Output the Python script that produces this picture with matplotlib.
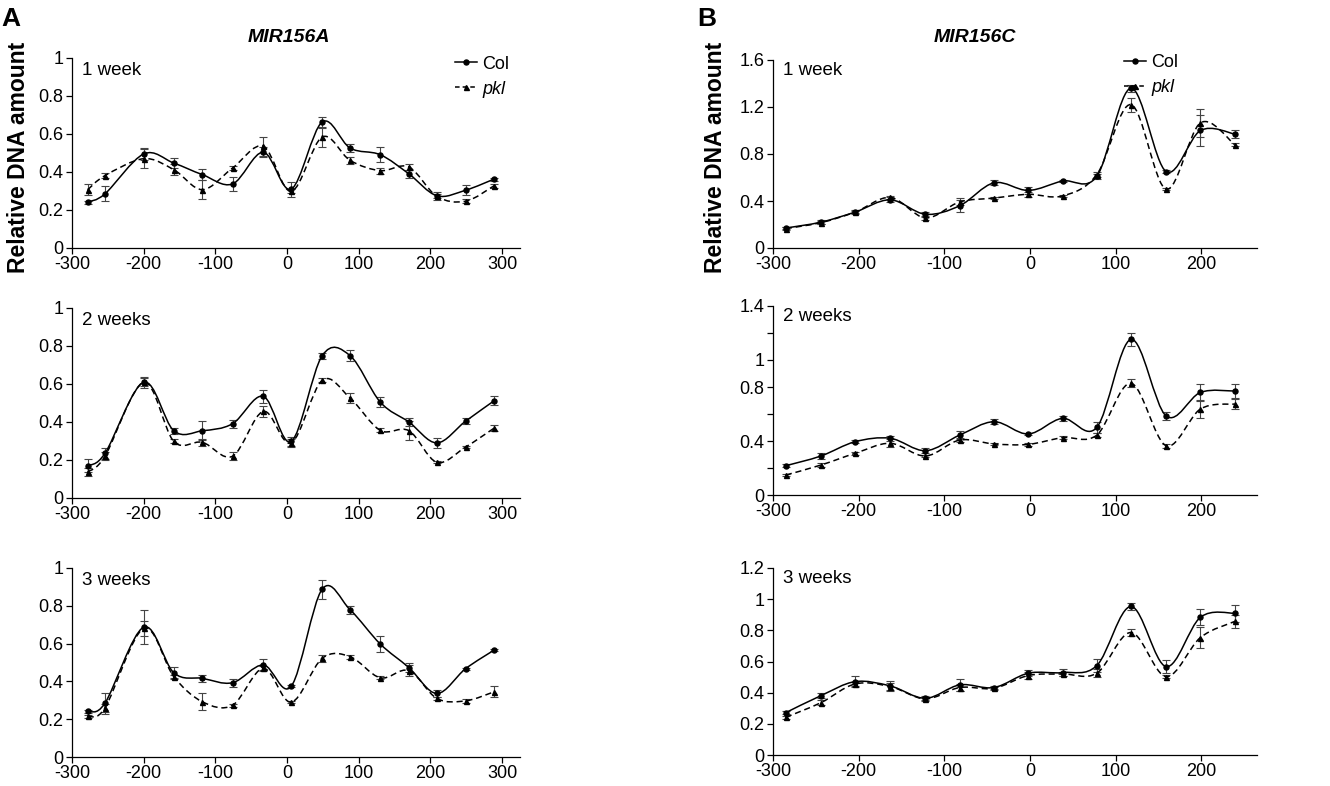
import numpy as np
import matplotlib
matplotlib.use("Agg")
import matplotlib.pyplot as plt
from matplotlib.path import Path
from matplotlib.patches import PathPatch
from matplotlib.lines import Line2D

plt.rcParams['font.family'] = ['Liberation Sans', 'DejaVu Sans']
plt.rcParams['axes.unicode_minus'] = False

# promoter positions (bp)
x_a = [-278, -254, -200, -158, -118, -76, -33, 6, 49, 88, 130, 170, 209, 249, 289]
x_c = [-285, -244, -204, -163, -122, -82, -42, -2, 38, 78, 118, 159, 199, 239]

# MIR156A
a1_col = [0.242, 0.285, 0.495, 0.447, 0.386, 0.337, 0.504, 0.31, 0.663, 0.526, 0.491, 0.39, 0.275, 0.304, 0.363]
a1_col_err = [0.008, 0.04, 0.03, 0.025, 0.03, 0.035, 0.025, 0.04, 0.025, 0.02, 0.04, 0.02, 0.02, 0.025, 0.008]
a1_pkl = [0.307, 0.381, 0.47, 0.412, 0.307, 0.421, 0.535, 0.298, 0.584, 0.461, 0.407, 0.426, 0.272, 0.246, 0.328]
a1_pkl_err = [0.03, 0.015, 0.05, 0.03, 0.05, 0.01, 0.05, 0.01, 0.05, 0.02, 0.015, 0.015, 0.01, 0.01, 0.01]

a2_col = [0.17, 0.235, 0.609, 0.354, 0.354, 0.391, 0.535, 0.298, 0.749, 0.749, 0.505, 0.4, 0.29, 0.404, 0.512]
a2_col_err = [0.035, 0.03, 0.03, 0.015, 0.05, 0.02, 0.035, 0.025, 0.015, 0.03, 0.025, 0.02, 0.025, 0.015, 0.025]
a2_pkl = [0.137, 0.22, 0.609, 0.298, 0.293, 0.22, 0.456, 0.29, 0.619, 0.526, 0.356, 0.354, 0.188, 0.268, 0.368]
a2_pkl_err = [0.02, 0.02, 0.02, 0.01, 0.02, 0.02, 0.03, 0.02, 0.01, 0.025, 0.01, 0.05, 0.005, 0.005, 0.015]

a3_col = [0.242, 0.285, 0.687, 0.446, 0.416, 0.393, 0.487, 0.375, 0.888, 0.779, 0.598, 0.473, 0.336, 0.467, 0.566]
a3_col_err = [0.008, 0.055, 0.09, 0.03, 0.02, 0.02, 0.03, 0.005, 0.05, 0.02, 0.04, 0.025, 0.02, 0.005, 0.005]
a3_pkl = [0.216, 0.26, 0.681, 0.425, 0.292, 0.274, 0.469, 0.29, 0.522, 0.531, 0.419, 0.457, 0.31, 0.297, 0.345]
a3_pkl_err = [0.008, 0.02, 0.04, 0.01, 0.045, 0.008, 0.01, 0.005, 0.02, 0.01, 0.008, 0.03, 0.01, 0.01, 0.03]

# MIR156C
c1_col = [0.17, 0.22, 0.306, 0.41, 0.287, 0.36, 0.555, 0.49, 0.57, 0.61, 1.36, 0.65, 1.0, 0.97]
c1_col_err = [0.01, 0.015, 0.015, 0.02, 0.02, 0.05, 0.02, 0.03, 0.01, 0.02, 0.03, 0.01, 0.13, 0.03]
c1_pkl = [0.165, 0.216, 0.306, 0.43, 0.256, 0.392, 0.425, 0.457, 0.443, 0.625, 1.22, 0.5, 1.065, 0.88]
c1_pkl_err = [0.01, 0.01, 0.01, 0.015, 0.02, 0.03, 0.01, 0.02, 0.01, 0.02, 0.06, 0.01, 0.12, 0.01]

c2_col = [0.217, 0.289, 0.395, 0.42, 0.328, 0.444, 0.543, 0.452, 0.568, 0.501, 1.153, 0.585, 0.76, 0.77]
c2_col_err = [0.01, 0.02, 0.01, 0.02, 0.02, 0.03, 0.02, 0.01, 0.02, 0.04, 0.05, 0.03, 0.06, 0.05]
c2_pkl = [0.148, 0.222, 0.309, 0.383, 0.289, 0.407, 0.378, 0.375, 0.425, 0.444, 0.827, 0.365, 0.637, 0.674]
c2_pkl_err = [0.01, 0.015, 0.01, 0.03, 0.01, 0.015, 0.01, 0.01, 0.01, 0.015, 0.03, 0.015, 0.07, 0.04]

c3_col = [0.272, 0.381, 0.471, 0.443, 0.364, 0.45, 0.433, 0.525, 0.529, 0.574, 0.953, 0.567, 0.884, 0.91]
c3_col_err = [0.01, 0.015, 0.035, 0.035, 0.015, 0.04, 0.01, 0.02, 0.025, 0.04, 0.02, 0.04, 0.05, 0.055]
c3_pkl = [0.242, 0.336, 0.456, 0.439, 0.36, 0.433, 0.428, 0.51, 0.52, 0.525, 0.786, 0.503, 0.754, 0.857]
c3_pkl_err = [0.01, 0.015, 0.015, 0.02, 0.01, 0.02, 0.01, 0.02, 0.015, 0.025, 0.02, 0.01, 0.07, 0.04]

week_labels = ["1 week", "2 weeks", "3 weeks"]

W, H = 1330, 786


def px(x, y):
    return x / W, 1 - y / H


def smooth_path(x, y):
    # excel-style smoothed line: bezier segments through the points
    pts = np.column_stack([x, y]).astype(float)
    n = len(pts)
    verts = [pts[0]]
    codes = [Path.MOVETO]
    for i in range(n - 1):
        p0 = pts[max(i - 1, 0)]
        p1 = pts[i]
        p2 = pts[i + 1]
        p3 = pts[min(i + 2, n - 1)]
        verts += [p1 + (p2 - p0) / 6, p2 - (p3 - p1) / 6, p2]
        codes += [Path.CURVE4] * 3
    return Path(verts, codes)


def draw_series(ax, x, y, err, dashed, marker):
    ls = (0, (4, 2.5)) if dashed else '-'
    ax.add_patch(PathPatch(smooth_path(x, y), fill=False, edgecolor='black', lw=1.1, linestyle=ls, zorder=3))
    ax.errorbar(x, y, yerr=err, fmt='none', ecolor='#444444', elinewidth=0.8, capsize=3, capthick=0.8, zorder=2)
    ax.plot(x, y, linestyle='none', marker=marker, ms=3.6, color='black', zorder=4)


def style_axis(ax, xlim, ylim, yticks, ylabels, xticks):
    ax.set_xlim(*xlim)
    ax.set_ylim(*ylim)
    ax.set_yticks(yticks)
    ax.set_yticklabels(ylabels)
    ax.set_xticks(xticks)
    ax.set_xticklabels([str(t) for t in xticks])
    for s in ['top', 'right']:
        ax.spines[s].set_visible(False)
    for s in ['left', 'bottom']:
        ax.spines[s].set_linewidth(0.9)
    ax.tick_params(direction='out', length=4, width=0.9, labelsize=13, pad=2)


fig = plt.figure(figsize=(13.3, 7.86), dpi=100)

a_left, a_right = 72, 520
c_left, c_right = 773, 1257
a_rows = [(58, 248), (308, 498), (568, 757)]
c_rows = [(60, 248), (306, 495), (568, 755)]

a_data = [(a1_col, a1_col_err, a1_pkl, a1_pkl_err),
          (a2_col, a2_col_err, a2_pkl, a2_pkl_err),
          (a3_col, a3_col_err, a3_pkl, a3_pkl_err)]
c_data = [(c1_col, c1_col_err, c1_pkl, c1_pkl_err),
          (c2_col, c2_col_err, c2_pkl, c2_pkl_err),
          (c3_col, c3_col_err, c3_pkl, c3_pkl_err)]

a_ticks = [0, 0.2, 0.4, 0.6, 0.8, 1]
c_yticks = [
    ([0, 0.4, 0.8, 1.2, 1.6], ["0", "0.4", "0.8", "1.2", "1.6"], 1.6),
    ([0, 0.2, 0.4, 0.6, 0.8, 1, 1.2, 1.4], ["0", "", "0.4", "", "0.8", "1", "", "1.4"], 1.4),
    ([0, 0.2, 0.4, 0.6, 0.8, 1, 1.2], ["0", "0.2", "0.4", "0.6", "0.8", "1", "1.2"], 1.2),
]

axes_a, axes_c = [], []
for i, (top, bot) in enumerate(a_rows):
    l, b = px(a_left, bot)
    ax = fig.add_axes([l, b, (a_right - a_left) / W, (bot - top) / H])
    col, col_err, pkl, pkl_err = a_data[i]
    draw_series(ax, x_a, pkl, pkl_err, True, '^')
    draw_series(ax, x_a, col, col_err, False, 'o')
    style_axis(ax, (-300, 325), (0, 1), a_ticks, [f"{t:g}" for t in a_ticks],
               [-300, -200, -100, 0, 100, 200, 300])
    ax.text(0.022, 0.935, week_labels[i], transform=ax.transAxes, fontsize=13.5, va='center', ha='left')
    axes_a.append(ax)

for i, (top, bot) in enumerate(c_rows):
    l, b = px(c_left, bot)
    ax = fig.add_axes([l, b, (c_right - c_left) / W, (bot - top) / H])
    col, col_err, pkl, pkl_err = c_data[i]
    draw_series(ax, x_c, pkl, pkl_err, True, '^')
    draw_series(ax, x_c, col, col_err, False, 'o')
    ticks, labels, ymax = c_yticks[i]
    style_axis(ax, (-300, 265), (0, ymax), ticks, labels,
               [-300, -200, -100, 0, 100, 200])
    ax.text(0.02, 0.945, week_labels[i], transform=ax.transAxes, fontsize=13.5, va='center', ha='left')
    axes_c.append(ax)

# legends
handles = [Line2D([], [], color='black', lw=1.1, marker='o', ms=3.6),
           Line2D([], [], color='black', lw=1.1, ls=(0, (3, 2)), marker='^', ms=3.6)]
for ax, anchor in [(axes_a[0], (1.0, 1.07)), (axes_c[0], (0.86, 1.09))]:
    leg = ax.legend(handles, ['Col', 'pkl'], loc='upper right', bbox_to_anchor=anchor,
                    frameon=False, fontsize=13, handlelength=1.2, handletextpad=0.3,
                    labelspacing=0.45, borderpad=0.1)
    leg.get_texts()[1].set_style('italic')

# titles, labels, panel letters
fig.text(*px(289, 38), "MIR156A", fontsize=14, fontweight='bold', style='italic', ha='center', va='center')
fig.text(*px(975, 38), "MIR156C", fontsize=14, fontweight='bold', style='italic', ha='center', va='center')
fig.text(*px(19, 157), "Relative DNA amount", fontsize=16.5, fontweight='bold', rotation=90, ha='center', va='center')
fig.text(*px(716, 157), "Relative DNA amount", fontsize=16.5, fontweight='bold', rotation=90, ha='center', va='center')
fig.text(*px(11, 19), "A", fontsize=19, fontweight='bold', ha='center', va='center')
fig.text(*px(707, 19), "B", fontsize=19, fontweight='bold', ha='center', va='center')

fig.savefig("out.png", dpi=100)
